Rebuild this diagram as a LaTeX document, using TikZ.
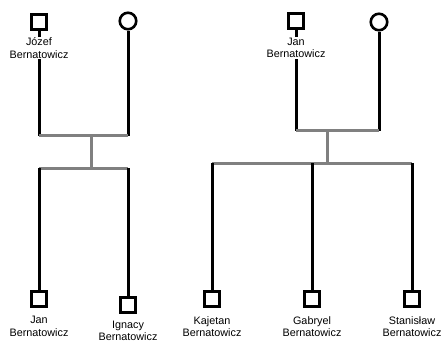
\documentclass[tikz,border=0pt]{standalone}
\usepackage{fontspec}
\setmainfont{Liberation Sans}
\begin{document}
\begin{tikzpicture}[x=1pt,y=-1pt,
  male/.style={draw=black,line width=3pt,rectangle,minimum size=15pt,inner sep=0pt,fill=white},
  female/.style={draw=black,line width=2.6pt,circle,minimum size=16.5pt,inner sep=0pt,fill=white},
  lbl/.style={align=center,fill=white,inner sep=1pt,font=\fontsize{10.8}{12.5}\selectfont},
  blk/.style={draw=black,line width=3pt},
  gry/.style={draw=black!50,line width=3pt}]
\useasboundingbox (0,0) rectangle (445,345);
% left family
\node[male] (f1) at (39,22) {};
\node[female] (mo1) at (128,21) {};
\coordinate (m1) at (91,136);
\coordinate (s1) at (91,168);
\node[male] (c1) at (39,299) {};
\node[male] (c2) at (128,305) {};
% right family
\node[male] (f2) at (296,21) {};
\node[female] (mo2) at (379,22) {};
\coordinate (m2) at (327,131);
\coordinate (s2) at (327,163);
\node[male] (k) at (212,299) {};
\node[male] (g) at (312,299) {};
\node[male] (st) at (412,299) {};
% connectors left
\draw[blk] (f1.south) -- (f1 |- m1);
\draw[blk] (mo1.south) -- (mo1 |- m1);
\draw[gry] (f1 |- m1) -- (mo1 |- m1);
\draw[gry] (m1) -- (s1);
\draw[gry] (c1 |- s1) -- (c2 |- s1);
\draw[blk] (c1 |- s1) -- (c1.north);
\draw[blk] (c2 |- s1) -- (c2.north);
% connectors right
\draw[blk] (f2.south) -- (f2 |- m2);
\draw[blk] (mo2.south) -- (mo2 |- m2);
\draw[gry] (f2 |- m2) -- (mo2 |- m2);
\draw[gry] (m2) -- (s2);
\draw[gry] (k |- s2) -- (st |- s2);
\draw[blk] (k |- s2) -- (k.north);
\draw[blk] (g |- s2) -- (g.north);
\draw[blk] (st |- s2) -- (st.north);
% labels
\node[lbl] (lf1) at (39,48) {Józef\\Bernatowicz};
\node[lbl] (lf2) at (296,48) {Jan\\Bernatowicz};
\node[lbl] (lc1) at (39,326.5) {Jan\\Bernatowicz};
\node[lbl] (lc2) at (128,331) {Ignacy\\Bernatowicz};
\node[lbl] (lk) at (212,326.5) {Kajetan\\Bernatowicz};
\node[lbl] (lg) at (312,326.5) {Gabryel\\Bernatowicz};
\node[lbl] (lst) at (412,326.5) {Stanisław\\Bernatowicz};
\end{tikzpicture}
\end{document}
